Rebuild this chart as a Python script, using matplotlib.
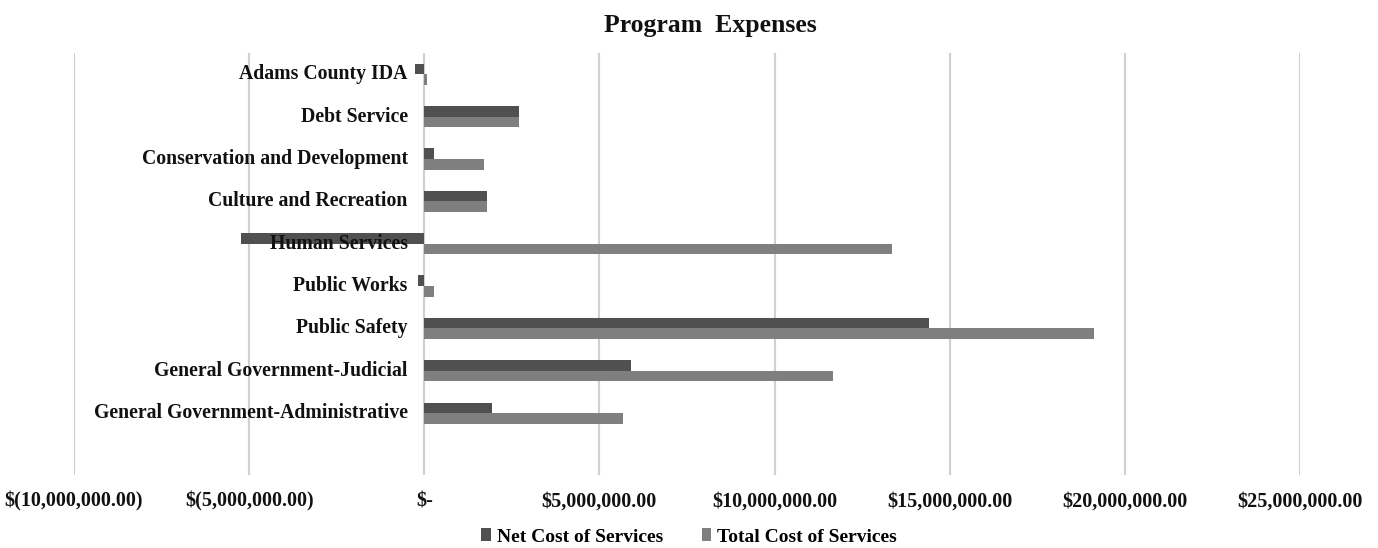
import matplotlib
matplotlib.use("Agg")
import matplotlib.pyplot as plt
from matplotlib.ticker import FuncFormatter, MultipleLocator
import numpy as np

plt.rcParams["font.family"] = ["Liberation Serif", "DejaVu Serif"]
plt.rcParams["font.weight"] = "bold"

# datos (de arriba hacia abajo)
categorias = ["Adams County IDA", "Debt Service", "Conservation and Development",
              "Culture and Recreation", "Human Services", "Public Works",
              "Public Safety", "General Government-Judicial",
              "General Government-Administrative"]
costo_neto = [-260000, 2690000, 290000, 1800000, -5230000, -170000,
              14400000, 5910000, 1940000]
costo_total = [80000, 2690000, 1710000, 1800000, 13340000, 290000,
               19110000, 11660000, 5660000]

col_neto = "#505050"
col_total = "#7f7f7f"

fig = plt.figure(figsize=(13.78, 5.48), dpi=100)
ax = fig.add_axes([74 / 1378, 73 / 548, 1226 / 1378, 422 / 548])

n = len(categorias)
y = np.arange(n)[::-1]
h = 0.25
ax.barh(y + h / 2, costo_neto, height=h, color=col_neto, label="Net Cost of Services", zorder=2)
ax.barh(y - h / 2, costo_total, height=h, color=col_total, label="Total Cost of Services", zorder=2)

# etiquetas de categoria junto al eje cero
for yi, cat in zip(y, categorias):
    ax.text(-0.47e6, yi, cat, ha="right", va="center", fontsize=14.2,
            fontweight="bold", color="#111111", zorder=3)

ax.set_xlim(-10e6, 25e6)
ax.set_ylim(-1.46, n - 0.5)
ax.xaxis.set_major_locator(MultipleLocator(5e6))


def fmt(v, pos):
    if abs(v) < 1:
        return "\\$-"
    if v < 0:
        return "\\$({:,.2f})".format(-v)
    return "\\${:,.2f}".format(v)


ax.xaxis.set_major_formatter(FuncFormatter(fmt))
ax.set_yticks([])
ax.tick_params(axis="x", length=0, pad=12, labelsize=14.5, labelcolor="#111111")
for lab in ax.get_xticklabels():
    lab.set_fontweight("bold")
ax.grid(axis="x", color="#d0d0d0", linewidth=1.5, zorder=1)
for s in ax.spines.values():
    s.set_visible(False)

fig.suptitle("Program  Expenses", x=710 / 1378, y=0.975, fontsize=18.5,
             fontweight="bold", color="#111111")
fig.legend(loc="center", bbox_to_anchor=(689 / 1378, 1 - 537 / 548), ncol=2,
           frameon=False, prop={"size": 14, "weight": "bold"},
           handlelength=0.5, handleheight=0.6, handletextpad=0.3, columnspacing=2.0)

fig.savefig("out.png", dpi=100)
